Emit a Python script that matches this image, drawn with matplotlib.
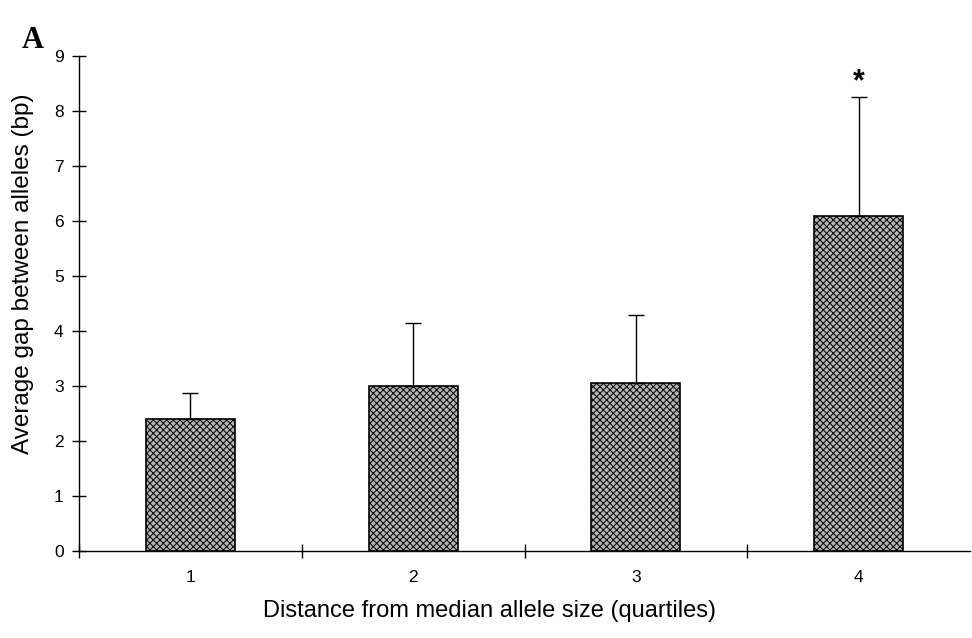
import matplotlib
matplotlib.use("Agg")
import matplotlib.pyplot as plt
from matplotlib.ticker import FixedLocator

categories = ["1", "2", "3", "4"]
means = [2.4, 3.0, 3.05, 6.1]
err_upper = [0.48, 1.15, 1.25, 2.15]
significant = [False, False, False, True]
y_ticks = [0, 1, 2, 3, 4, 5, 6, 7, 8, 9]

plt.rcParams['font.family'] = ['Liberation Sans', 'DejaVu Sans']
plt.rcParams['hatch.color'] = '#303030'
plt.rcParams['hatch.linewidth'] = 0.7
fig = plt.figure(figsize=(9.72, 6.38), dpi=100)
ax = fig.add_axes([0.0813, 0.1364, 0.9167, 0.7756])

x = list(range(1, len(categories) + 1))
ax.bar(x, means, width=0.4, facecolor='#b4b4b4', edgecolor='black',
       linewidth=1.2, hatch='xxxxx', zorder=2)
ax.errorbar(x, means, yerr=[[0]*len(means), err_upper], fmt='none',
            ecolor='black', elinewidth=1.0, capsize=6, capthick=1.0, zorder=3)
for xi, m, e, s in zip(x, means, err_upper, significant):
    if s:
        ax.text(xi, m + e + 0.0, '*', ha='center', va='bottom', fontsize=22, fontweight='bold')

ax.set_xlim(0.5, len(categories) + 0.5)
ax.set_ylim(0, 9)
ax.set_yticks(y_ticks)
ax.set_xticks(x)
ax.set_xticklabels(categories, fontsize=12.5)
ax.tick_params(axis='x', length=0, pad=14)
ax.xaxis.set_minor_locator(FixedLocator([0.5, 1.5, 2.5, 3.5]))
ax.tick_params(axis='x', which='minor', direction='inout', length=10, width=1)
ax.tick_params(axis='y', direction='inout', length=10, width=1, labelsize=12.5, pad=6)
ax.spines['top'].set_visible(False)
ax.spines['right'].set_visible(False)
ax.spines['left'].set_linewidth(1)
ax.spines['bottom'].set_linewidth(1)
ax.set_ylabel('Average gap between alleles (bp)', fontsize=17.5)
ax.yaxis.set_label_coords(-0.05, 0.56)
ax.set_xlabel('Distance from median allele size (quartiles)', fontsize=17)
ax.xaxis.set_label_coords(0.461, -0.10)

fig.text(0.022, 0.925, 'A', fontsize=22, fontweight='bold',
         family=['Liberation Serif', 'DejaVu Serif'])

fig.savefig('out.png', dpi=100)
